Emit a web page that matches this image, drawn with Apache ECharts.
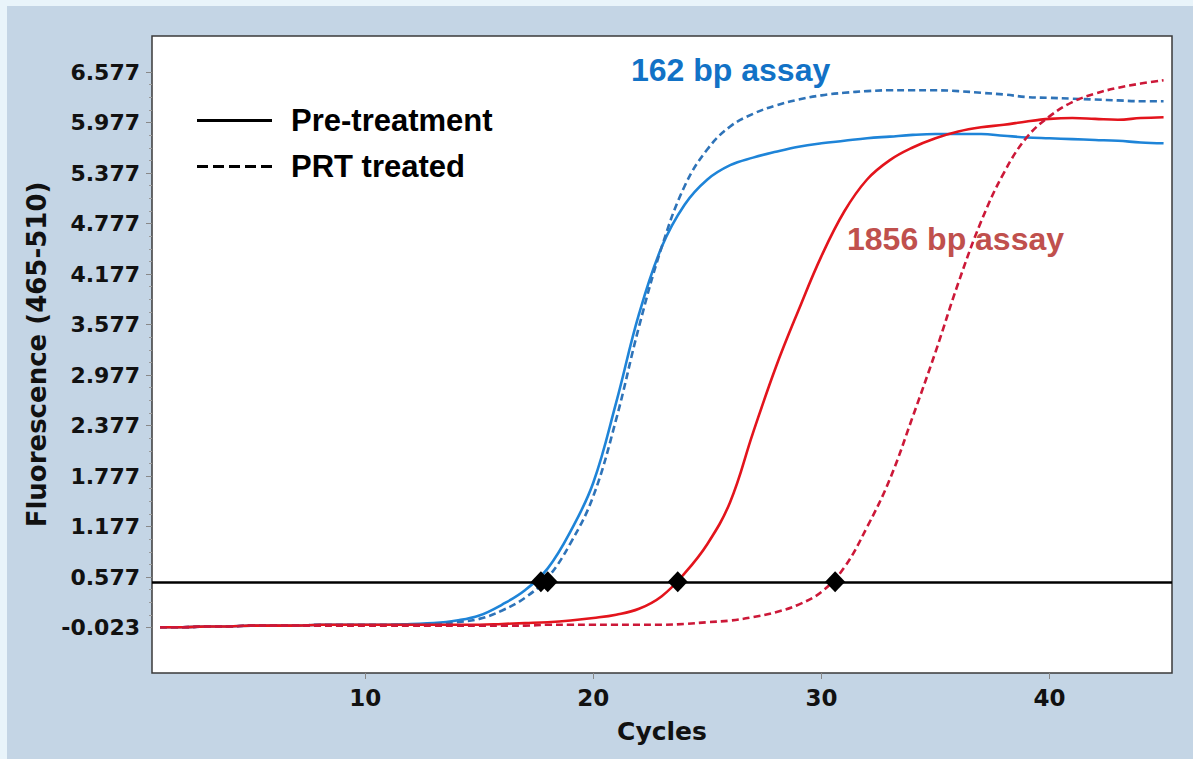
<!DOCTYPE html>
<html>
<head>
<meta charset="utf-8">
<script src="https://cdn.jsdelivr.net/npm/echarts@6/dist/echarts.min.js"></script>
<style>
  html, body { margin: 0; padding: 0; background: #e9f4fa; }
  #main { width: 1193px; height: 759px; }
</style>
</head>
<body>
<div id="main"></div>
<script>
// amplification cycles
var cycles = [1, 2, 3, 4, 5, 6, 7, 8, 9, 10, 11, 12, 13, 14, 15, 16, 17, 18, 19, 20, 21, 22, 23,
              24, 25, 26, 27, 28, 29, 30, 31, 32, 33, 34, 35, 36, 37, 38, 39, 40, 41, 42, 43, 44, 45];

// 162 bp assay
var bluePre = [-0.02, -0.02, -0.01, -0.01, 0.00, 0.00, 0.00, 0.01, 0.01, 0.01, 0.01, 0.02,
               0.03, 0.06, 0.12, 0.25, 0.42, 0.68, 1.12, 1.70, 2.65, 3.70, 4.50, 5.00, 5.30,
               5.47, 5.56, 5.63, 5.69, 5.73, 5.76, 5.79, 5.81, 5.83, 5.84, 5.84, 5.84, 5.82,
               5.80, 5.79, 5.78, 5.77, 5.76, 5.74, 5.73];
var bluePrt = [-0.02, -0.02, -0.01, -0.01, 0.00, 0.00, 0.00, 0.01, 0.01, 0.01, 0.01, 0.01,
               0.02, 0.04, 0.08, 0.18, 0.33, 0.57, 0.98, 1.54, 2.45, 3.55, 4.50, 5.22, 5.66,
               5.93, 6.08, 6.18, 6.25, 6.30, 6.33, 6.35, 6.36, 6.36, 6.36, 6.35, 6.33, 6.31,
               6.28, 6.27, 6.26, 6.25, 6.24, 6.23, 6.23];
// 1856 bp assay
var redPre = [-0.02, -0.02, -0.01, -0.01, 0.00, 0.00, 0.00, 0.01, 0.01, 0.01, 0.01, 0.01,
              0.01, 0.01, 0.01, 0.02, 0.03, 0.04, 0.06, 0.09, 0.13, 0.20, 0.35, 0.62, 0.97,
              1.47, 2.29, 3.07, 3.75, 4.39, 4.92, 5.30, 5.53, 5.68, 5.79, 5.87, 5.92, 5.95,
              5.99, 6.02, 6.03, 6.02, 6.01, 6.03, 6.04];
var redPrt = [-0.02, -0.02, -0.01, -0.01, 0.00, 0.00, 0.00, 0.00, 0.00, 0.00, 0.00, 0.00,
              0.00, 0.00, 0.00, 0.00, 0.00, 0.01, 0.01, 0.01, 0.01, 0.01, 0.01, 0.02, 0.04,
              0.06, 0.10, 0.16, 0.25, 0.40, 0.69, 1.17, 1.74, 2.48, 3.25, 4.07, 4.80, 5.38,
              5.80, 6.05, 6.22, 6.32, 6.39, 6.44, 6.48];

// crossing points with threshold
var ctCycles = [17.7, 18.0, 23.7, 30.6];
var threshold = 0.52;

var yTicks = [-0.023, 0.577, 1.177, 1.777, 2.377, 2.977, 3.577, 4.177, 4.777, 5.377, 5.977, 6.577];
var xTicks = [10, 20, 30, 40];

var yMinor = [];
for (var i = 0; i < yTicks.length - 1; i++) {
    for (var k = 1; k < 4; k++) yMinor.push(yTicks[i] + 0.15 * k);
}

function pairs(ys) {
    return cycles.map(function (c, i) { return [c, ys[i]]; });
}

var dom = document.getElementById('main');
var myChart = echarts.init(dom, null, { renderer: 'svg' });

var boldFont = 'DejaVu Sans';
var textFont = 'Liberation Sans';

function curve(name, data, color, dashed) {
    return {
        name: name,
        type: 'line',
        data: pairs(data),
        smooth: 0.4,
        showSymbol: false,
        silent: true,
        z: 3,
        lineStyle: { color: color, width: 2.6, type: dashed ? [7, 4] : 'solid' },
        itemStyle: { color: color }
    };
}

var option = {
    backgroundColor: '#c4d5e5',
    animation: false,
    graphic: [
        { type: 'rect', shape: { x: 0, y: 0, width: 1193, height: 6 }, style: { fill: '#e9f4fa' }, z: 0 },
        { type: 'rect', shape: { x: 0, y: 0, width: 7, height: 759 }, style: { fill: '#e9f4fa' }, z: 0 },
        { type: 'text', left: 631, top: 54, z: 1,
          style: { text: '162 bp assay', fill: '#1272c6', font: 'bold 32px "Liberation Sans"' } },
        { type: 'text', left: 847, top: 223, z: 1,
          style: { text: '1856 bp assay', fill: '#c0504d', font: 'bold 32px "Liberation Sans"' } }
    ],
    legend: {
        orient: 'vertical',
        left: 197,
        top: 105,
        padding: 0,
        itemWidth: 75,
        itemHeight: 3,
        itemGap: 15,
        selectedMode: false,
        textStyle: {
            fontFamily: textFont, fontWeight: 'bold', fontSize: 31, color: '#000',
            lineHeight: 31, padding: [0, 0, 0, 14]
        },
        data: [
            { name: 'Pre-treatment', icon: 'path://M0,0H75V3H0Z' },
            { name: 'PRT treated', icon: 'path://M0,0H11V3H0Z M16,0H27V3H16Z M32,0H43V3H32Z M48,0H59V3H48Z M64,0H75V3H64Z' }
        ]
    },
    grid: {
        left: 152,
        right: 21,
        top: 36,
        bottom: 86,
        show: true,
        backgroundColor: '#ffffff',
        borderColor: '#3a3a3a',
        borderWidth: 1.5
    },
    xAxis: {
        type: 'value',
        min: 0.65,
        max: 45.37,
        name: 'Cycles',
        nameLocation: 'middle',
        nameGap: 46,
        nameTextStyle: { fontFamily: boldFont, fontWeight: 'bold', fontSize: 25, color: '#111' },
        splitLine: { show: false },
        axisLine: { show: false, onZero: false },
        axisTick: { show: true, length: 6, lineStyle: { color: '#888' }, customValues: xTicks },
        axisLabel: {
            fontFamily: boldFont, fontWeight: 'bold', fontSize: 23, color: '#111', margin: 13,
            customValues: xTicks
        }
    },
    yAxis: [{
        type: 'value',
        min: -0.563,
        max: 7.005,
        name: 'Fluorescence (465-510)',
        nameLocation: 'middle',
        nameGap: 98,
        nameTextStyle: { fontFamily: boldFont, fontWeight: 'bold', fontSize: 26, color: '#111' },
        splitLine: { show: false },
        axisLine: { show: false, onZero: false },
        axisTick: { show: true, length: 6, lineStyle: { color: '#888' }, customValues: yTicks },
        axisLabel: {
            fontFamily: boldFont, fontWeight: 'bold', fontSize: 22, color: '#111', margin: 12,
            customValues: yTicks,
            formatter: function (v) { return v.toFixed(3); }
        }
    }, {
        type: 'value',
        position: 'left',
        min: -0.563,
        max: 7.005,
        splitLine: { show: false },
        axisLine: { show: false, onZero: false },
        axisLabel: { show: false },
        axisTick: { show: true, length: 3, lineStyle: { color: '#999' }, customValues: yMinor }
    }],
    series: [
        { name: 'Pre-treatment', type: 'line', data: [], itemStyle: { color: '#000' }, lineStyle: { color: '#000' } },
        { name: 'PRT treated', type: 'line', data: [], itemStyle: { color: '#000' }, lineStyle: { color: '#000', type: 'dashed' } },
        curve('162 pre', bluePre, '#1e84d8', false),
        curve('162 PRT', bluePrt, '#2e73b8', true),
        curve('1856 pre', redPre, '#e3141c', false),
        curve('1856 PRT', redPrt, '#cc1838', true),
        {
            name: 'threshold',
            type: 'line',
            data: [],
            silent: true,
            markLine: {
                silent: true,
                symbol: 'none',
                label: { show: false },
                lineStyle: { color: '#000', width: 2.5, type: 'solid' },
                data: [{ yAxis: threshold }]
            }
        },
        {
            name: 'Ct',
            type: 'scatter',
            symbol: 'diamond',
            symbolSize: [20, 21],
            z: 5,
            silent: true,
            itemStyle: { color: '#000', opacity: 1 },
            data: ctCycles.map(function (c) { return [c, threshold]; })
        }
    ]
};

if (option && typeof option === 'object') {
    myChart.setOption(option, true);
}
</script>
</body>
</html>
